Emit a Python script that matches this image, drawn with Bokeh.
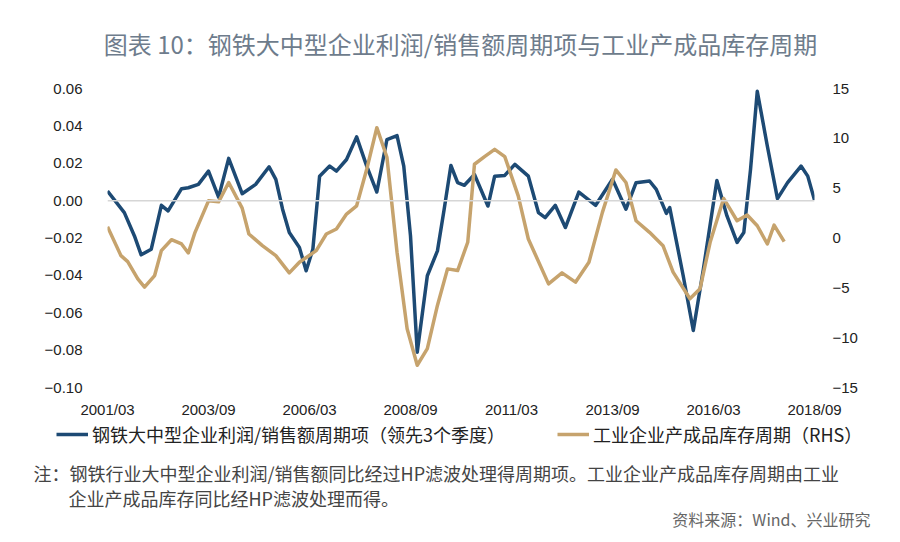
from bokeh.plotting import figure
from bokeh.layouts import column
from bokeh.models import (Range1d, LinearAxis, FixedTicker, Span, Label, Legend, LegendItem)
from bokeh.embed import file_html
from bokeh.resources import INLINE

# ---------------- data ----------------
title_text = "图表 10：钢铁大中型企业利润/销售额周期项与工业产成品库存周期"
note_line1 = "注：钢铁行业大中型企业利润/销售额同比经过HP滤波处理得周期项。工业企业产成品库存周期由工业"
note_line2 = "企业产成品库存同比经HP滤波处理而得。"
source_text = "资料来源：Wind、兴业研究"
series1_name = "钢铁大中型企业利润/销售额周期项（领先3个季度）"
series2_name = "工业企业产成品库存周期（RHS）"

x_tick_labels = ["2001/03", "2003/09", "2006/03", "2008/09", "2011/03", "2013/09", "2016/03", "2018/09"]
left_ticks = [-0.10, -0.08, -0.06, -0.04, -0.02, 0.00, 0.02, 0.04, 0.06]
right_ticks = [-15, -10, -5, 0, 5, 10, 15]

steel_dates = ["2001-03", "2001-08", "2001-11", "2002-01", "2002-04", "2002-07", "2002-09", "2003-01",
               "2003-03", "2003-06", "2003-09", "2003-12", "2004-03", "2004-07", "2004-11", "2005-03",
               "2005-05", "2005-07", "2005-09", "2005-12", "2006-02", "2006-04", "2006-06", "2006-09",
               "2006-11", "2007-02", "2007-05", "2007-08", "2007-11", "2008-02", "2008-05", "2008-07",
               "2008-09", "2008-11", "2009-02", "2009-05", "2009-07", "2009-09", "2009-11", "2010-01",
               "2010-04", "2010-08", "2010-10", "2011-01", "2011-04", "2011-08", "2011-11", "2012-01",
               "2012-04", "2012-07", "2012-11", "2013-04", "2013-09", "2014-01", "2014-04", "2014-08",
               "2014-10", "2015-01", "2015-02", "2015-06", "2015-09", "2015-12", "2016-04", "2016-07",
               "2016-10", "2016-12", "2017-02", "2017-04", "2017-07", "2017-10", "2018-01", "2018-05",
               "2018-07", "2018-09"]
steel_values = [0.0051, -0.0064, -0.0189, -0.0290, -0.0260, -0.0025, -0.0055, 0.0064,
                0.0069, 0.0087, 0.0158, 0.0019, 0.0226, 0.0037, 0.0087, 0.0181,
                0.0114, -0.0046, -0.0171, -0.0251, -0.0375, -0.0260, 0.0131, 0.0185,
                0.0158, 0.0220, 0.0341, 0.0185, 0.0046, 0.0327, 0.0348, 0.0185,
                -0.0189, -0.0811, -0.0402, -0.0269, -0.0046, 0.0188, 0.0096, 0.0082,
                0.0140, -0.0029, 0.0131, 0.0135, 0.0194, 0.0131, -0.0064, -0.0091,
                -0.0025, -0.0144, 0.0046, -0.0025, 0.0114, -0.0046, 0.0096, 0.0105,
                0.0060, -0.0068, -0.0037, -0.0402, -0.0695, -0.0366, 0.0108, -0.0082,
                -0.0224, -0.0171, 0.0167, 0.0585, 0.0291, 0.0011, 0.0096, 0.0185,
                0.0131, 0.0003]

inv_dates = ["2001-03", "2001-07", "2001-09", "2001-12", "2002-02", "2002-05", "2002-07", "2002-10",
             "2003-01", "2003-03", "2003-05", "2003-09", "2003-12", "2004-03", "2004-07", "2004-09",
             "2005-01", "2005-05", "2005-09", "2005-12", "2006-05", "2006-08", "2006-11", "2007-02",
             "2007-05", "2007-08", "2007-11", "2008-02", "2008-05", "2008-08", "2008-11", "2009-02",
             "2009-05", "2009-08", "2009-11", "2010-02", "2010-04", "2010-07", "2010-10", "2011-01",
             "2011-05", "2011-08", "2012-02", "2012-06", "2012-10", "2013-02", "2013-06", "2013-10",
             "2014-01", "2014-04", "2014-08", "2014-12", "2015-03", "2015-08", "2015-11", "2016-02",
             "2016-06", "2016-10", "2017-01", "2017-04", "2017-07", "2017-09", "2017-12"]
inv_values = [1.13, -1.77, -2.37, -4.10, -4.93, -3.77, -1.27, -0.17,
              -0.60, -1.50, 0.57, 3.73, 3.63, 5.57, 3.00, 0.40,
              -0.77, -1.77, -3.50, -2.43, -1.27, 0.40, 0.90, 2.40,
              3.23, 6.90, 11.07, 8.10, -1.43, -9.10, -12.77, -11.10,
              -6.77, -3.10, -3.27, -0.43, 7.40, 8.17, 8.90, 8.17,
              4.23, -0.10, -4.60, -3.50, -4.43, -2.43, 2.57, 6.83,
              5.57, 1.73, 0.57, -0.77, -3.43, -6.10, -5.10, -0.43,
              3.97, 1.73, 2.30, 1.23, -0.60, 1.30, -0.37]


def month_index(s):
    y, m = s.replace("/", "-").split("-")
    return (int(y) - 2001) * 12 + (int(m) - 3)


steel_x = [month_index(d) for d in steel_dates]
inv_x = [month_index(d) for d in inv_dates]
tick_pos = [month_index(t) for t in x_tick_labels]

BLUE = "#1d4a74"
TAN = "#c6a36d"
CJK = "Noto Sans CJK SC"
W = 884


def blank_panel(h):
    b = figure(width=W, height=h, output_backend="svg", toolbar_location=None,
               x_range=Range1d(0, W), y_range=Range1d(0, h),
               x_axis_location=None, y_axis_location=None,
               min_border_left=0, min_border_right=0, min_border_top=0, min_border_bottom=0)
    b.frame_align = False
    b.outline_line_color = None
    b.xgrid.visible = False
    b.ygrid.visible = False
    b.border_fill_color = "white"
    b.title.visible = False
    return b


# ---------------- header: title ----------------
HH = 70
hdr = blank_panel(HH)
hdr.add_layout(Label(x=460, y=HH - 43, text=title_text, text_font=CJK, text_font_size="24px",
                     text_color="#6e7c8c", text_align="center", text_baseline="middle"))

# ---------------- main chart ----------------
p = figure(width=W, height=350, output_backend="svg", toolbar_location=None,
           x_range=Range1d(tick_pos[0], tick_pos[-1]), y_range=Range1d(-0.10, 0.06),
           min_border_left=107, min_border_right=70, min_border_top=18, min_border_bottom=31)
p.frame_align = False
p.title.visible = False
p.outline_line_color = None
p.xgrid.visible = False
p.ygrid.visible = False
p.background_fill_color = "white"
p.border_fill_color = "white"

p.extra_y_ranges = {"rhs": Range1d(-15, 15)}


def style_axis(ax, standoff):
    ax.axis_line_color = None
    ax.major_tick_line_color = None
    ax.minor_tick_line_color = None
    ax.major_tick_in = 0
    ax.major_tick_out = 0
    ax.minor_tick_in = 0
    ax.minor_tick_out = 0
    ax.major_label_standoff = standoff
    ax.major_label_text_font = "Liberation Sans"
    ax.major_label_text_font_size = "15px"
    ax.major_label_text_color = "#222222"


xa = p.xaxis[0]
xa.ticker = FixedTicker(ticks=tick_pos)
xa.major_label_overrides = {t: l for t, l in zip(tick_pos, x_tick_labels)}
style_axis(xa, 13)

ya = p.yaxis[0]
ya.ticker = FixedTicker(ticks=left_ticks)
ya.major_label_overrides = {t: ("%.2f" % t).replace("-", "\u2212") for t in left_ticks}
style_axis(ya, 25)

ra = LinearAxis(y_range_name="rhs", ticker=FixedTicker(ticks=right_ticks))
ra.major_label_overrides = {t: str(t).replace("-", "\u2212") for t in right_ticks}
style_axis(ra, 18)
p.add_layout(ra, "right")

p.add_layout(Span(location=0, dimension="width", line_color="#d6d6d6", line_width=1.5))

p.line(steel_x, steel_values, line_color=BLUE, line_width=3.5, line_join="round")
p.line(inv_x, inv_values, line_color=TAN, line_width=3.5, line_join="round", y_range_name="rhs")

# ---------------- footer: legend + notes ----------------
FH = 122
f = blank_panel(FH)

nan = float("nan")
k1 = f.line(x=[nan], y=[nan], line_color=BLUE, line_width=3.5)
k2 = f.line(x=[nan], y=[nan], line_color=TAN, line_width=3.5)
legend = Legend(items=[LegendItem(label=series1_name, renderers=[k1]),
                       LegendItem(label=series2_name, renderers=[k2])],
                location=(56, 95), orientation="horizontal",
                label_text_font=CJK, label_text_font_size="18px", label_text_color="#222222",
                glyph_width=32, label_standoff=4, spacing=52, padding=0, margin=0,
                background_fill_alpha=0, border_line_color=None)
f.add_layout(legend)

f.add_layout(Label(x=33, y=70, text=note_line1, text_font=CJK, text_font_size="18px",
                   text_color="#444444", text_align="left", text_baseline="middle"))
f.add_layout(Label(x=68, y=45, text=note_line2, text_font=CJK, text_font_size="18px",
                   text_color="#444444", text_align="left", text_baseline="middle"))
f.add_layout(Label(x=870, y=24, text=source_text, text_font=CJK, text_font_size="16px",
                   text_color="#666666", text_align="right", text_baseline="middle"))

layout = column(hdr, p, f, spacing=0)
open("out.html", "w").write(file_html(layout, INLINE))
